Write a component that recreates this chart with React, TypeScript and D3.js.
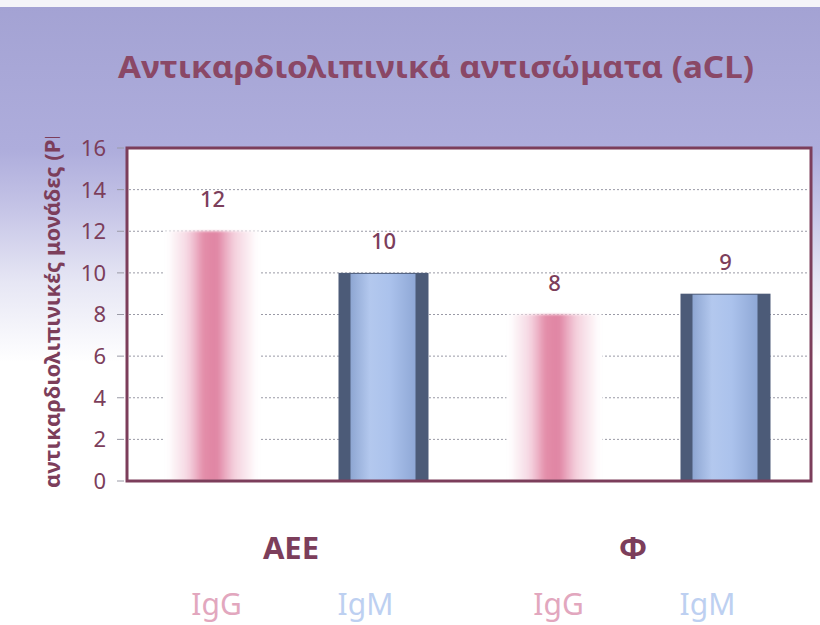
import React from "react";
import * as d3 from "d3";

const groups = ["AEE", "Φ"];
const seriesNames = ["IgG", "IgM"];
const igG = [12, 8];
const igM = [10, 9];
const yTicks = [0, 2, 4, 6, 8, 10, 12, 14, 16];
const title = "Αντικαρδιολιπινικά αντισώματα (aCL)";
const yLabel = "αντικαρδιολιπινικές μονάδες (PL)";

const W = 820;
const H = 625;
const M = { left: 127, right: 811, top: 148, bottom: 481 };
const FONT = "'Noto Sans', 'DejaVu Sans', sans-serif";
const MAROON = "#7c3e5b";

export default function App() {
  const y = d3.scaleLinear().domain([0, 16]).range([M.bottom, M.top]);
  const x0 = d3.scaleBand<string>().domain(groups).range([M.left, M.right]).padding(0);
  const x1 = d3.scalePoint<string>().domain(seriesNames).range([0, x0.bandwidth()]).padding(0.5);
  const barW = 90;

  const bars = groups.flatMap((g, gi) => [
    { g, s: "IgG", v: igG[gi], cx: (x0(g) as number) + (x1("IgG") as number) },
    { g, s: "IgM", v: igM[gi], cx: (x0(g) as number) + (x1("IgM") as number) },
  ]);

  return (
    <svg width={W} height={H} style={{ display: "block", position: "absolute", left: 0, top: 0 }}>
      <defs>
        <linearGradient id="bg" x1="0" y1="0" x2="0" y2="1">
          <stop offset="0" stopColor="#a3a2d3" />
          <stop offset="0.24" stopColor="#aeaddc" />
          <stop offset="0.33" stopColor="#c4c3e6" />
          <stop offset="0.45" stopColor="#e6e6f4" />
          <stop offset="0.58" stopColor="#ffffff" />
          <stop offset="1" stopColor="#ffffff" />
        </linearGradient>
        <linearGradient id="pink" x1="0" y1="0" x2="1" y2="0">
          <stop offset="0" stopColor="#e58fae" stopOpacity="0" />
          <stop offset="0.22" stopColor="#e58fae" stopOpacity="0.35" />
          <stop offset="0.4" stopColor="#e0809f" stopOpacity="0.9" />
          <stop offset="0.55" stopColor="#de7e9e" stopOpacity="0.95" />
          <stop offset="0.75" stopColor="#e58fae" stopOpacity="0.4" />
          <stop offset="1" stopColor="#e58fae" stopOpacity="0" />
        </linearGradient>
        <linearGradient id="blue" x1="0" y1="0" x2="1" y2="0">
          <stop offset="0" stopColor="#8ea6d2" />
          <stop offset="0.3" stopColor="#b3c8ee" />
          <stop offset="0.6" stopColor="#abc2ec" />
          <stop offset="1" stopColor="#8fa8d6" />
        </linearGradient>
        <filter id="blur" x="-20%" y="-5%" width="140%" height="110%">
          <feGaussianBlur stdDeviation="2.5 1.2" />
        </filter>
        <clipPath id="ylabClip">
          <rect x={0} y={137} width={120} height={400} />
        </clipPath>
      </defs>

      <rect x={0} y={0} width={W} height={H} fill="url(#bg)" />
      <rect x={0} y={0} width={W} height={7} fill="#f4f4f8" />

      <text
        x={436}
        y={78}
        textAnchor="middle"
        fontFamily={FONT}
        fontWeight="bold"
        fontSize={30}
        fill="#8a4866"
        textLength={636}
        lengthAdjust="spacingAndGlyphs"
      >
        {title}
      </text>

      <rect x={M.left} y={M.top} width={M.right - M.left} height={M.bottom - M.top} fill="#ffffff" />

      {yTicks.slice(1, -1).map((t) => (
        <line
          key={"g" + t}
          x1={M.left + 2}
          x2={M.right - 2}
          y1={y(t)}
          y2={y(t)}
          stroke="#9a9aa6"
          strokeWidth={1}
          strokeDasharray="2 2"
        />
      ))}

      {bars.map((b, i) =>
        b.s === "IgG" ? (
          <g key={i}>
            <rect x={b.cx - barW / 2 - 3} y={y(b.v)} width={barW + 6} height={M.bottom - y(b.v)} fill="#ffffff" />
            <rect
              x={b.cx - barW / 2}
              y={y(b.v)}
              width={barW}
              height={M.bottom - y(b.v)}
              fill="url(#pink)"
              filter="url(#blur)"
            />
          </g>
        ) : (
          <g key={i}>
            <rect x={b.cx - barW / 2} y={y(b.v)} width={barW} height={M.bottom - y(b.v)} fill="#4c5b78" />
            <rect
              x={b.cx - barW / 2 + 12}
              y={y(b.v) + 1}
              width={barW - 25}
              height={M.bottom - y(b.v) - 1}
              fill="url(#blue)"
            />
          </g>
        )
      )}

      {bars.map((b, i) => (
        <text
          key={"v" + i}
          x={b.cx}
          y={y(b.v) - 24}
          textAnchor="middle"
          fontFamily={FONT}
          fontSize={22}
          fontWeight={500}
          fill={MAROON}
        >
          {b.v}
        </text>
      ))}

      <rect
        x={M.left}
        y={M.top}
        width={M.right - M.left}
        height={M.bottom - M.top}
        fill="none"
        stroke={MAROON}
        strokeWidth={3}
      />

      {yTicks.map((t) => (
        <g key={"t" + t}>
          <line x1={117} x2={124} y1={y(t)} y2={y(t)} stroke="#9a9aa6" strokeWidth={1} />
          <text
            x={106}
            y={y(t)}
            dy="0.36em"
            textAnchor="end"
            fontFamily={FONT}
            fontSize={22}
            fill={MAROON}
          >
            {t}
          </text>
        </g>
      ))}

      <g clipPath="url(#ylabClip)">
        <text
          transform={`translate(60, 488) rotate(-90)`}
          fontFamily={FONT}
          fontWeight="bold"
          fontSize={21}
          fill={MAROON}
          textLength={368}
          lengthAdjust="spacingAndGlyphs"
        >
          {yLabel}
        </text>
      </g>

      {groups.map((g) => (
        <text
          key={"c" + g}
          x={(x0(g) as number) + x0.bandwidth() / 2 - 7}
          y={559}
          textAnchor="middle"
          fontFamily={FONT}
          fontWeight="bold"
          fontSize={31}
          fill="#7c3e5b"
        >
          {g}
        </text>
      ))}

      {bars.map((b, i) => (
        <text
          key={"s" + i}
          x={b.cx + (b.s === "IgG" ? 4 : -18)}
          y={615}
          textAnchor="middle"
          fontFamily={FONT}
          fontSize={30}
          fill={b.s === "IgG" ? "#e2a7be" : "#bdd0f1"}
        >
          {b.s}
        </text>
      ))}
    </svg>
  );
}
